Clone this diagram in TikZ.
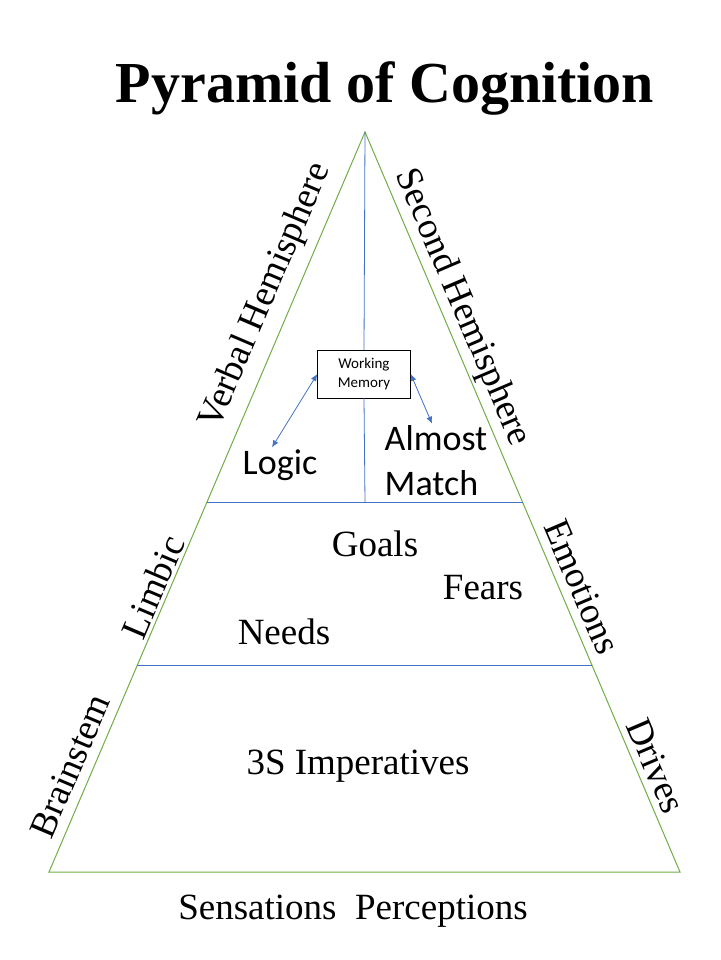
\documentclass[tikz,border=0pt]{standalone}
\usepackage{fontspec}
\setmainfont{Liberation Serif}
\newfontfamily\calfont{Carlito}
\usepackage{tikz}
\usetikzlibrary{arrows.meta,calc}
\definecolor{edgegreen}{HTML}{70AD47}
\definecolor{lineblue}{HTML}{4472C4}

\begin{document}
\begin{tikzpicture}[x=1pt,y=-1pt,
          every node/.style={inner sep=2pt},
          tlabel/.style={font=\fontsize{37}{40}\selectfont},
          slabel/.style={font=\calfont\fontsize{36}{45}\selectfont,align=left},
          sidelabel/.style={font=\fontsize{37}{40}\selectfont},
          wmbox/.style={draw,font=\calfont\fontsize{15}{19}\selectfont,align=center,
                        minimum width=93pt,minimum height=48pt,inner sep=3pt},
          arr/.style={{Latex[length=7pt,width=6pt]}-{Latex[length=7pt,width=6pt]},
                      draw=lineblue,line width=0.8pt}
      ]
        \useasboundingbox (0,0) rectangle (720,960);

        % pyramid outline
        \coordinate (apex) at (365,132);
        \coordinate (bl) at (49,872);
        \coordinate (br) at (680,872);
        \draw[edgegreen,line width=1pt] (apex) -- (bl) -- (br) -- cycle;

        % layers
        \coordinate (l1) at ($(apex)!0.5!(bl)$);
        \coordinate (r1) at ($(apex)!0.5!(br)$);
        \coordinate (l2) at ($(apex)!0.7216!(bl)$);
        \coordinate (r2) at ($(apex)!0.7216!(br)$);
        \coordinate (mid) at (l1 -| apex);
        \draw[lineblue,line width=1pt] (l1) -- (r1);
        \draw[lineblue,line width=1pt] (l2) -- (r2);

        \node[font=\bfseries\fontsize{58}{66}\selectfont] (title) at (385,88) {Pyramid of Cognition};

        \node[wmbox] (wm) at (364,374) {Working\\Memory};
        \draw[lineblue,line width=0.8pt] (apex) -- (wm.north);
        \draw[lineblue,line width=0.8pt] (wm.south) -- (mid);

        \node[slabel] (logic) at (280,465) {Logic};
        \node[slabel] (match) at (436,461) {Almost\\Match};
        \draw[arr] (wm.west) -- ([xshift=-8pt]logic.north);
        \draw[arr] (wm.east) -- ([xshift=-4pt]match.north);

        \node[tlabel] (goals) at (375,544) {Goals};
        \node[tlabel] (fears) at (483,588) {Fears};
        \node[tlabel] (needs) at (284,632) {Needs};
        \node[tlabel] (imp) at (358,766) {3S Imperatives};
        \node[tlabel] (sens) at (353,911) {Sensations\ \ Perceptions};

        % side labels
        \node[sidelabel,rotate=66.9] (verbal) at (266,296) {Verbal Hemisphere};
        \node[sidelabel,rotate=-66.9] (second) at (462,308) {Second Hemisphere};
        \node[sidelabel,rotate=66.9] (limbic) at (153,587) {Limbic};
        \node[sidelabel,rotate=-66.9] (emo) at (582,587) {Emotions};
        \node[sidelabel,rotate=66.9] (brain) at (70,766) {Brainstem};
        \node[sidelabel,rotate=-66.9] (drives) at (656,766) {Drives};
      \end{tikzpicture}
\end{document}
